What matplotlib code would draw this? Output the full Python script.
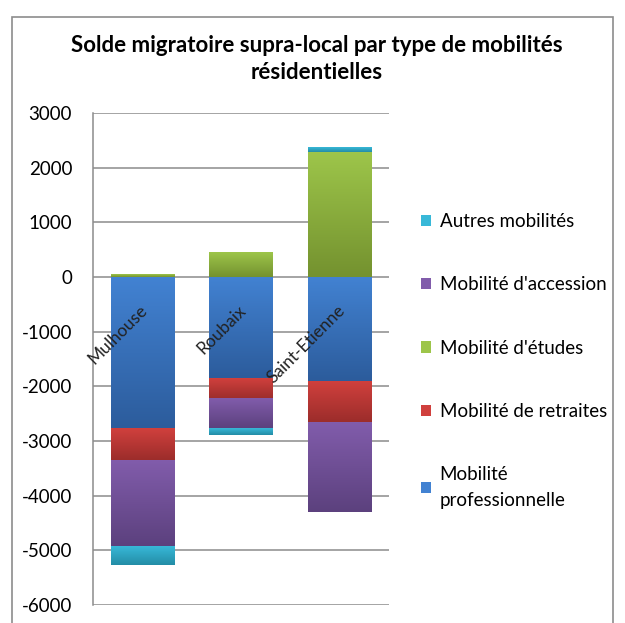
import numpy as np
import matplotlib
matplotlib.use("Agg")
import matplotlib.pyplot as plt
from matplotlib.colors import LinearSegmentedColormap
from matplotlib.patches import Rectangle

plt.rcParams['font.family'] = ['Lato', 'DejaVu Sans']

categories = ["Mulhouse", "Roubaix", "Saint-Etienne"]
series_names = ["Mobilité\nprofessionnelle", "Mobilité de retraites", "Mobilité d'études",
                "Mobilité d'accession", "Autres mobilités"]
pro = [-2775, -1848, -1909]
retraites = [-580, -378, -750]
etudes = [40, 450, 2286]
accession = [-1573, -543, -1646]
autres = [-340, -116, 85]
series_values = [pro, retraites, etudes, accession, autres]
# (top colour, bottom colour) of each gradient
series_colors = [("#4282D2", "#2C5C9C"), ("#D0403D", "#9C2D2B"), ("#9DC54A", "#74922F"),
                 ("#815CAB", "#5C417E"), ("#38B8D8", "#238DA6")]
yticks = [3000, 2000, 1000, 0, -1000, -2000, -3000, -4000, -5000, -6000]
title = "Solde migratoire supra-local par type de mobilités\nrésidentielles"

fig = plt.figure(figsize=(6.25, 6.23), dpi=100)
fig.patches.append(Rectangle((12 / 625, -0.05), 601 / 625, 1 - 17 / 623 + 0.05,
                             transform=fig.transFigure, fill=False, edgecolor="#8c8c8c",
                             linewidth=1.2))
ax = fig.add_axes([93 / 625, 1 - 605 / 623, 296 / 625, 492 / 623])

x = np.arange(len(categories))
pos_bottom = np.zeros(len(categories))
neg_bottom = np.zeros(len(categories))
handles = []
for name, vals, (ctop, cbot) in zip(series_names, series_values, series_colors):
    vals = np.array(vals, dtype=float)
    bottom = np.where(vals >= 0, pos_bottom, neg_bottom)
    bars = ax.bar(x, vals, width=0.645, bottom=bottom, color=ctop, label=name, zorder=3,
                  linewidth=0)
    cmap = LinearSegmentedColormap.from_list("g", [cbot, ctop])
    grad = np.linspace(1, 0, 64).reshape(-1, 1)
    for r in bars:
        x0, y0, w, h = r.get_x(), r.get_y(), r.get_width(), r.get_height()
        lo, hi = min(y0, y0 + h), max(y0, y0 + h)
        ax.imshow(grad, extent=[x0, x0 + w, lo, hi], aspect="auto", cmap=cmap,
                  vmin=0, vmax=1, zorder=3.5, interpolation="bilinear")
    handles.append(bars)
    pos_bottom = pos_bottom + np.where(vals >= 0, vals, 0)
    neg_bottom = neg_bottom + np.where(vals < 0, vals, 0)

ax.set_xlim(-0.5, len(categories) - 0.5)
ax.set_ylim(-6000, 3000)
ax.set_yticks(yticks)
ax.set_yticklabels([str(v) for v in yticks], fontsize=13.5)
ax.set_xticks([])
ax.tick_params(axis="y", length=0, pad=15)
ax.grid(axis="y", color="#8c8c8c", linewidth=1.1, zorder=1)
for s in ["right", "bottom", "top"]:
    ax.spines[s].set_visible(False)
ax.spines["left"].set_color("#8c8c8c")
ax.spines["left"].set_linewidth(1.1)

for i, c in enumerate(categories):
    ax.annotate(c, xy=(i, 0), xytext=(2, -22), textcoords="offset points",
                rotation=45, rotation_mode="anchor", ha="right", va="center",
                fontsize=12.5, color="#222222", zorder=5)

fig.text(0.507, 1 - 59 / 623, title, ha="center", va="center", fontsize=16,
         fontweight="bold", linespacing=1.3)

order = [4, 3, 2, 1, 0]
leg = fig.legend([handles[i] for i in order], [series_names[i] for i in order],
                 loc="upper left", bbox_to_anchor=(404 / 625, 1 - 196 / 623),
                 frameon=False, fontsize=13.5, handlelength=0.55, handleheight=0.55,
                 handletextpad=0.45, labelspacing=2.47)
for t in leg.get_texts():
    t.set_linespacing(1.6)

fig.savefig("out.png", dpi=100)
